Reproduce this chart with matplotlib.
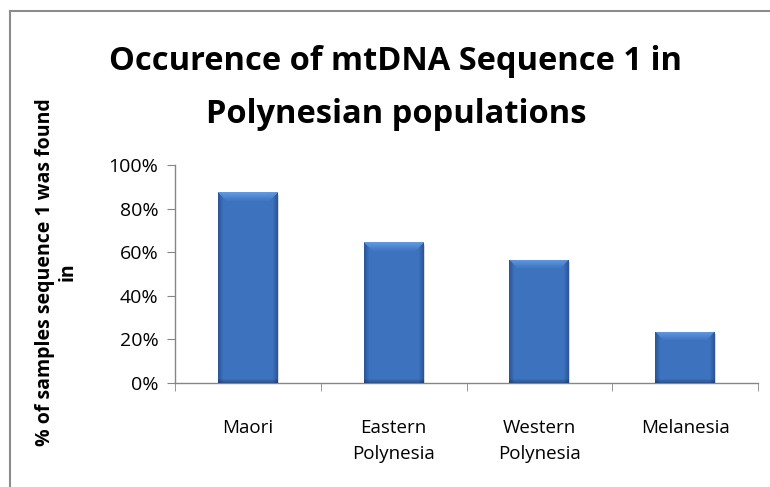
import numpy as np
import matplotlib.pyplot as plt
from matplotlib.lines import Line2D

categories = ['Maori', 'Eastern\nPolynesia', 'Western\nPolynesia', 'Melanesia']
values = [0.875, 0.645, 0.565, 0.235]
yticks = [0, 0.2, 0.4, 0.6, 0.8, 1.0]
ytick_labels = ['0%', '20%', '40%', '60%', '80%', '100%']
title_lines = ['Occurence of mtDNA Sequence 1 in', 'Polynesian populations']
ylabel = '% of samples sequence 1 was found\nin'

plt.rcParams['font.family'] = ['Open Sans', 'DejaVu Sans']

W, H = 770, 487
fig = plt.figure(figsize=(W / 100, H / 100), dpi=100)
ax_h = 218
ax = fig.add_axes([175 / W, 1 - 383 / H, (758 - 175) / W, ax_h / H])

x = np.arange(len(categories))
bars = ax.bar(x, values, width=0.41, color='#3d72bf', zorder=2)

base = np.array([0.24, 0.45, 0.75])
edge = np.array([0.17, 0.34, 0.60])
top = np.array([0.42, 0.64, 0.92])


def bar_image(n_rows, n_cols=60):
    # horizontal: darker edges, flat middle
    cx = np.arange(n_cols)
    dx = np.minimum(cx, n_cols - 1 - cx)
    hw = np.clip(1 - dx / 5.0, 0, 1)
    img = base[None, None, :] + (edge - base)[None, None, :] * hw[None, :, None]
    img = np.repeat(img, n_rows, axis=0)
    # lighter bevel on top, darker at bottom
    ry = np.arange(n_rows)
    tw = np.clip(1 - ry / 9.0, 0, 1)
    for r in range(n_rows):
        if tw[r] > 0:
            # keep the corners slanted
            inset = r
            mask = (cx >= inset) & (cx <= n_cols - 1 - inset)
            img[r, mask] = img[r, mask] * (1 - tw[r] * 0.8) + top * tw[r] * 0.8
    bw = np.clip(1 - (n_rows - 1 - ry) / 4.0, 0, 1)
    img = img * (1 - 0.25 * bw[:, None, None])
    return np.clip(img, 0, 1)


for b in bars:
    x0, w, h = b.get_x(), b.get_width(), b.get_height()
    rows = max(int(round(h * ax_h)), 2)
    # soft shadow under the bar
    ax.bar(b.get_x() + w / 2 + 0.008, h, width=w, bottom=-0.012,
           color='#a9a9a9', alpha=0.45, zorder=1, lw=0)
    im = ax.imshow(bar_image(rows), extent=[x0, x0 + w, 0, h], aspect='auto',
                   zorder=3, interpolation='bilinear')
    im.set_clip_path(b)

ax.set_xlim(-0.5, len(categories) - 0.5)
ax.set_ylim(0, 1.0)
ax.set_yticks(yticks)
ax.set_yticklabels(ytick_labels, fontsize=14)
ax.set_xticks(x)
ax.set_xticklabels(categories, fontsize=13.5, linespacing=1.55)
ax.tick_params(axis='x', length=0, pad=26)
ax.tick_params(axis='y', length=6, color='#868686', pad=6)
ax.set_xticks(np.arange(len(categories) + 1) - 0.5, minor=True)
ax.tick_params(axis='x', which='minor', length=6, color='#868686', direction='out')
for lbl in ax.get_xticklabels():
    lbl.set_verticalalignment('top')

for s in ['top', 'right']:
    ax.spines[s].set_visible(False)
for s in ['left', 'bottom']:
    ax.spines[s].set_color('#868686')
    ax.spines[s].set_linewidth(1.0)

fig.text(396 / W, 1 - 70 / H, title_lines[0], ha='center', va='baseline',
         fontsize=23.5, fontweight='bold')
fig.text(396 / W, 1 - 123 / H, title_lines[1], ha='center', va='baseline',
         fontsize=23.5, fontweight='bold')
fig.text(56 / W, 1 - 272 / H, ylabel, ha='center', va='center', rotation=90,
         fontsize=14, fontweight='bold', linespacing=1.15)

# chart frame: only the left and top edges are inside the picture
fig.add_artist(Line2D([9.5 / W, 9.5 / W], [0, 1 - 10.5 / H], transform=fig.transFigure,
                      color='#8c8c8c', lw=1.5))
fig.add_artist(Line2D([9.5 / W, 1], [1 - 10.5 / H, 1 - 10.5 / H], transform=fig.transFigure,
                      color='#8c8c8c', lw=1.5))

fig.savefig('out.png', dpi=100)
